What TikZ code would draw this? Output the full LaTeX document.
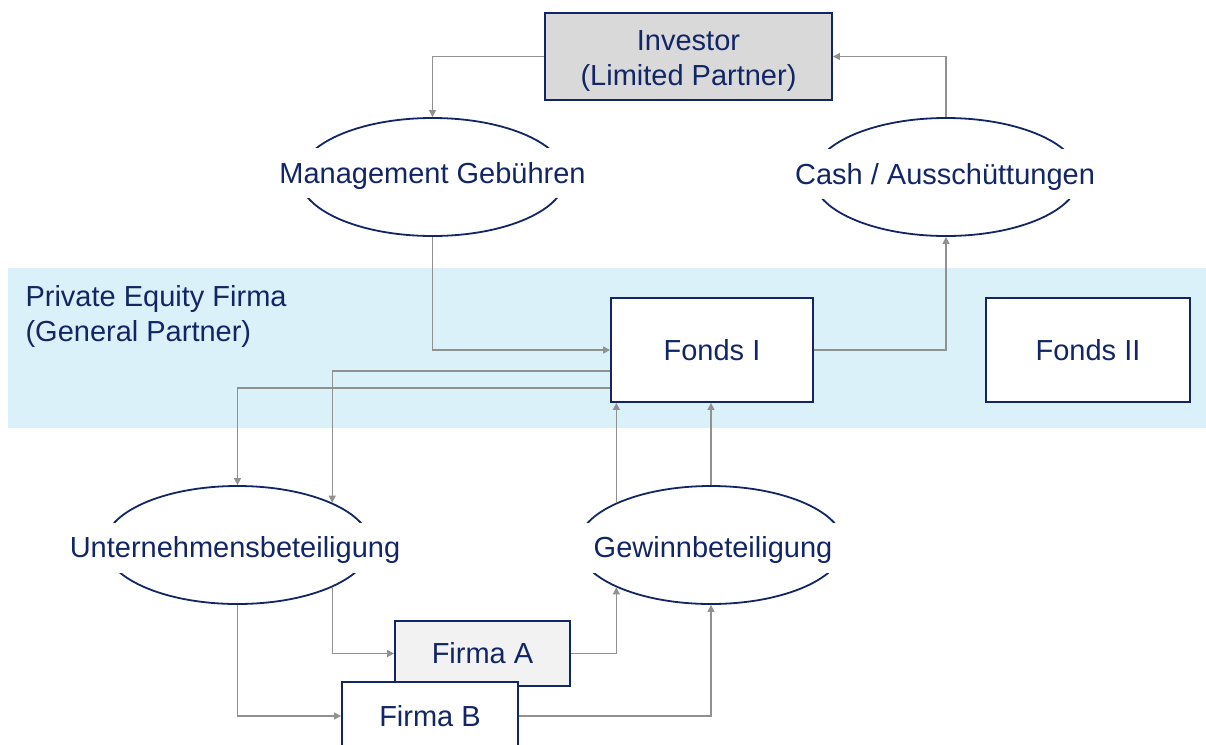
\documentclass[tikz,border=0pt]{standalone}
\usepackage{fontspec}
\setmainfont{Liberation Sans}
\usetikzlibrary{shapes.geometric,arrows.meta}
\definecolor{navy}{RGB}{18,38,102}
\definecolor{band}{RGB}{218,241,250}
\definecolor{invfill}{RGB}{217,217,217}
\definecolor{afill}{RGB}{242,242,242}
\definecolor{conncol}{RGB}{145,145,145}
\tikzset{
  txt/.style={text=navy, font=\fontsize{29}{35}\selectfont},
  oneline/.style={text height=20.8pt, text depth=0pt},
  box/.style={txt, draw=navy, line width=1.8pt, fill=white, inner sep=0pt, align=center},
  ell/.style={ellipse, draw=navy, line width=1.8pt, minimum width=266pt, minimum height=118pt, inner sep=0pt},
  elltxt/.style={txt, oneline, fill=white, minimum height=50pt, minimum width=274pt, inner xsep=6pt, inner ysep=0pt},
  conn/.style={draw=conncol, line width=1.2pt, -{Triangle[length=7pt,width=7pt]}},
}
\begin{document}
\begin{tikzpicture}[x=1pt,y=-1pt]
\useasboundingbox (0,0) rectangle (1206,744);
\clip (0,0) rectangle (1206,744);
% band
\fill[band] (8,268) rectangle (1206,428);
\node[txt, anchor=west, align=left] (pe) at (22,316) {Private Equity Firma\\(General Partner)};
% nodes
\node[box, fill=invfill, minimum width=287pt, minimum height=87pt] (inv) at (688.5,56.5) {};
\node[txt, align=center] (invt) at (688.5,61.5) {Investor\\(Limited Partner)};
\node[ell] (mg) at (432.5,177) {};
\node[elltxt] (mgt) at (432.5,173) {Management Gebühren};
\node[ell] (cash) at (946,177) {};
\node[elltxt] (casht) at (945,174) {Cash / Ausschüttungen};
\node[box, oneline, minimum width=202pt, minimum height=104pt] (f1) at (712,350) {Fonds I};
\node[box, oneline, minimum width=204pt, minimum height=104pt] (f2) at (1088,350) {Fonds II};
\node[ell] (unt) at (237.5,545) {};
\node[elltxt] (untt) at (235,547.5) {Unternehmensbeteiligung};
\node[ell] (gw) at (711,545) {};
\node[elltxt] (gwt) at (713,547.5) {Gewinnbeteiligung};
\node[box, oneline, fill=afill, minimum width=175pt, minimum height=65pt] (fa) at (482.5,653.5) {Firma A};
\node[box, oneline, minimum width=176pt, minimum height=68pt] (fb) at (430,716) {Firma B};
% connectors
\draw[conn] (inv.west) -| (mg.north);
\draw[conn] (cash.north) |- (inv.east);
\draw[conn] (mg.south) |- (f1.west);
\draw[conn] (f1.east) -| (cash.south);
\draw[conn] ([yshift=-21pt]f1.west) -| (unt.north east);
\draw[conn] ([yshift=-38pt]f1.west) -| (unt.north);
\draw[conn] (unt.south) |- (fb.west);
\draw[conn] (unt.south east) |- (fa.west);
\draw[conn] (fa.east) -| (gw.south west);
\draw[conn] (fb.east) -| (gw.south);
\draw[conn] (gw.north west) -- (gw.north west |- f1.south);
\draw[conn] (gw.north) -- (gw.north |- f1.south);
\end{tikzpicture}
\end{document}
